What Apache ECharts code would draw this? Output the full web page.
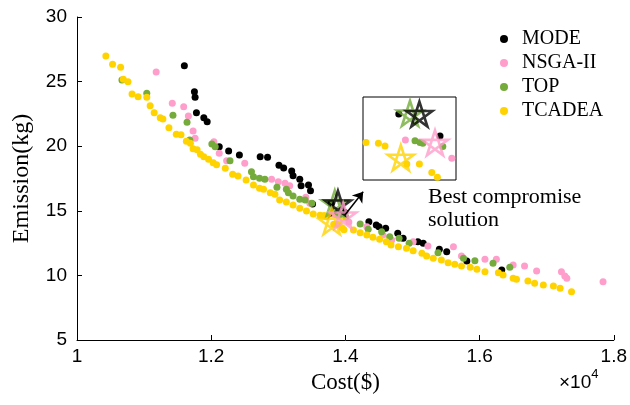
<!DOCTYPE html>
<html>
<head>
<meta charset="utf-8">
<script src="https://cdn.jsdelivr.net/npm/echarts@6/dist/echarts.min.js"></script>
<style>html,body{margin:0;background:#fff}#main{width:630px;height:405px}</style>
</head>
<body>
<div id="main"></div>
<script>
// cost is in units of 10^4 $, emission in kg
var seriesNames = ['MODE', 'NSGA-II', 'TOP', 'TCADEA']
var seriesColors = ['#000000', '#ff9ecb', '#74ab3a', '#ffd300']

var modeData = [
  [1.160,26.23],[1.175,24.22],[1.176,23.78],[1.178,22.59],[1.189,22.21],[1.194,21.90],
  [1.212,19.96],[1.226,19.63],[1.242,19.32],[1.273,19.19],[1.284,19.14],[1.301,18.52],
  [1.308,18.31],[1.320,18.08],[1.322,17.72],[1.332,17.44],[1.334,16.94],[1.345,17.00],
  [1.348,16.56],[1.351,15.53],[1.3786,15.57],[1.3992,14.86],[1.435,14.16],[1.446,13.90],
  [1.450,13.77],[1.460,13.65],[1.478,13.26],[1.486,12.87],[1.508,12.61],[1.516,12.48],
  [1.540,12.02],[1.551,11.83],[1.581,11.11],[1.633,10.42]
]
var nsgaData = [
  [1.118,25.74],[1.142,23.32],[1.159,23.06],[1.166,22.34],[1.173,21.18],[1.176,20.61],
  [1.204,20.35],[1.212,19.45],[1.223,18.88],[1.250,18.68],[1.290,17.44],[1.300,17.25],
  [1.310,17.13],[1.317,16.94],[1.341,16.04],[1.347,15.58],[1.3819,14.73],[1.4051,14.14],
  [1.432,13.77],[1.456,13.13],[1.469,12.74],[1.501,12.61],[1.523,12.28],[1.561,12.22],
  [1.573,11.50],[1.608,11.25],[1.625,11.25],[1.650,10.80],[1.667,10.73],[1.685,10.34],
  [1.722,10.29],[1.727,9.95],[1.730,9.78],[1.784,9.51]
]
var topData = [
  [1.067,25.12],[1.104,24.09],[1.143,22.39],[1.164,21.85],[1.168,20.48],[1.201,20.17],
  [1.206,19.96],[1.228,18.88],[1.260,18.03],[1.263,17.64],[1.272,17.52],[1.280,17.44],
  [1.298,16.82],[1.312,16.66],[1.315,16.40],[1.322,16.15],[1.332,15.89],[1.340,15.84],
  [1.350,15.58],[1.3867,14.71],[1.3892,14.65],[1.3906,14.63],[1.4006,14.52],[1.422,13.98],
  [1.434,13.57],[1.454,13.38],[1.466,13.00],[1.480,12.87],[1.495,12.48],[1.538,11.76],
  [1.576,11.32],[1.593,11.14],[1.620,10.94],[1.645,10.63]
]
var tcadeaData = [
  [1.043,26.98],[1.053,26.34],[1.065,26.11],[1.069,25.18],[1.076,24.99],[1.082,24.04],
  [1.091,23.83],[1.104,23.78],[1.109,23.13],[1.115,22.59],[1.124,22.21],[1.128,22.11],
  [1.137,21.43],[1.148,20.92],[1.155,20.89],[1.163,20.38],[1.169,20.22],[1.173,19.81],
  [1.179,19.73],[1.184,19.37],[1.189,19.19],[1.196,18.99],[1.203,18.72],[1.208,18.57],
  [1.221,18.29],[1.232,17.82],[1.240,17.69],[1.252,17.38],[1.263,17.00],[1.272,16.74],
  [1.278,16.66],[1.288,16.40],[1.295,16.28],[1.302,15.84],[1.312,15.68],[1.322,15.45],
  [1.332,15.19],[1.342,14.98],[1.352,14.75],[1.3622,14.65],[1.3684,14.63],[1.3717,14.54],
  [1.3826,13.96],[1.3889,13.96],[1.3951,13.68],[1.3979,13.53],[1.412,13.51],[1.422,13.30],
  [1.432,13.13],[1.441,12.95],
  [1.451,12.79],[1.461,12.61],[1.468,12.35],[1.479,12.22],[1.491,12.10],[1.501,11.91],
  [1.514,11.71],[1.521,11.50],[1.531,11.32],[1.543,11.19],[1.553,10.98],[1.563,10.86],
  [1.573,10.73],[1.586,10.63],[1.596,10.47],[1.608,10.29],[1.628,10.21],[1.635,10.03],
  [1.650,9.78],[1.655,9.70],[1.672,9.57],[1.682,9.39],[1.695,9.26],[1.710,9.18],
  [1.720,9.00],[1.737,8.74]
]
// best compromise solution of each algorithm
var bestPoints = [[1.3889,15.57],[1.3967,14.64],[1.3842,15.59],[1.3796,14.16]]
var starOrder = [2, 0, 3, 1]

var xTicks = [1, 1.2, 1.4, 1.6, 1.8]
var yTicks = [5, 10, 15, 20, 25, 30]
var insetX = [1.3607, 1.4072]
var insetY = [13.44, 16.12]
var arrowCoords = [[1.3993,14.67],[1.4265,16.48]]

var allData = [modeData, nsgaData, topData, tcadeaData]
var starPath = 'path://M0,-1L0.588,0.809L-0.951,-0.309L0.951,-0.309L-0.588,0.809Z'

var myChart = echarts.init(document.getElementById('main'))

var series = []
for (var g = 0; g < 2; g++) {
  for (var i = 0; i < 4; i++) {
    series.push({
      name: seriesNames[i], type: 'scatter', data: allData[i],
      xAxisIndex: g, yAxisIndex: g, clip: true, silent: true,
      symbol: 'circle', symbolSize: 7,
      itemStyle: { color: seriesColors[i], opacity: 1 },
      emphasis: { disabled: true }, z: g ? 12 : 2
    })
  }
  starOrder.forEach(function (k) {
    series.push({
      name: seriesNames[k] + ' best', type: 'scatter', data: [bestPoints[k]],
      xAxisIndex: g, yAxisIndex: g, clip: true, silent: true,
      symbol: starPath, symbolSize: [26, 25],
      itemStyle: { color: 'rgba(0,0,0,0)', borderColor: seriesColors[k], borderWidth: 2.6 },
      emphasis: { disabled: true }, z: g ? 13 : 3
    })
  })
}
series.push({
  type: 'lines', coordinateSystem: 'cartesian2d', silent: true,
  data: [{ coords: arrowCoords }],
  symbol: ['none', 'arrow'], symbolSize: [0, 10],
  lineStyle: { color: '#000', width: 1.5, opacity: 1 }, z: 4
})

var option = {
  animation: false,
  backgroundColor: '#fff',
  grid: [
    { left: 77, top: 17, width: 537, height: 323 },
    { left: 363, top: 97, width: 93, height: 83, show: true, borderColor: '#000', borderWidth: 1, backgroundColor: '#fff', z: 10 }
  ],
  legend: {
    data: seriesNames, orient: 'vertical', left: 495, top: 24,
    icon: 'circle', itemWidth: 8, itemHeight: 8, itemGap: 4,
    textStyle: { fontFamily: 'Liberation Serif', fontSize: 20, color: '#000', lineHeight: 20, padding: [0, 0, 0, 9] }
  },
  xAxis: [
    {
      type: 'value', min: 1, max: 1.8, interval: 0.2,
      name: 'Cost($)', nameLocation: 'middle', nameGap: 31,
      nameTextStyle: { fontFamily: 'Liberation Serif', fontSize: 23, color: '#000' },
      axisLine: { lineStyle: { color: '#000', width: 1 } },
      axisTick: { inside: true, length: 5, lineStyle: { color: '#000' } },
      axisLabel: { margin: 7, fontFamily: 'Liberation Sans', fontSize: 19, color: '#000',
        formatter: function (v) { return xTicks.indexOf(+v.toFixed(1)) >= 0 ? String(+v.toFixed(1)) : '' } },
      splitLine: { show: false }
    },
    { type: 'value', gridIndex: 1, min: insetX[0], max: insetX[1], show: false, splitLine: { show: false } }
  ],
  yAxis: [
    {
      type: 'value', min: 5, max: 30, interval: 5,
      name: 'Emission(kg)', nameLocation: 'middle', nameGap: 43,
      nameTextStyle: { fontFamily: 'Liberation Serif', fontSize: 24, color: '#000' },
      axisLine: { show: true, lineStyle: { color: '#000', width: 1 } },
      axisTick: { show: true, inside: true, length: 5, lineStyle: { color: '#000' } },
      axisLabel: { margin: 10, fontFamily: 'Liberation Sans', fontSize: 19, color: '#000',
        formatter: function (v) { return yTicks.indexOf(v) >= 0 ? String(v) : '' } },
      splitLine: { show: false }
    },
    { type: 'value', gridIndex: 1, min: insetY[0], max: insetY[1], show: false, splitLine: { show: false } }
  ],
  graphic: [
    {
      type: 'text', left: 428, top: 186, silent: true,
      style: { text: 'Best compromise\nsolution', fontFamily: 'Liberation Serif', fontSize: 22, lineHeight: 23, fill: '#000' }
    },
    {
      type: 'text', left: 559, top: 368, silent: true,
      style: {
        text: '{a|×10}{b|4}', fill: '#000',
        rich: {
          a: { fontFamily: 'Liberation Sans', fontSize: 19, verticalAlign: 'bottom', lineHeight: 24 },
          b: { fontFamily: 'Liberation Sans', fontSize: 13, verticalAlign: 'top', lineHeight: 24, padding: [0, 0, 10, 0] }
        }
      }
    }
  ],
  series: series
}
myChart.setOption(option)
</script>
</body>
</html>
